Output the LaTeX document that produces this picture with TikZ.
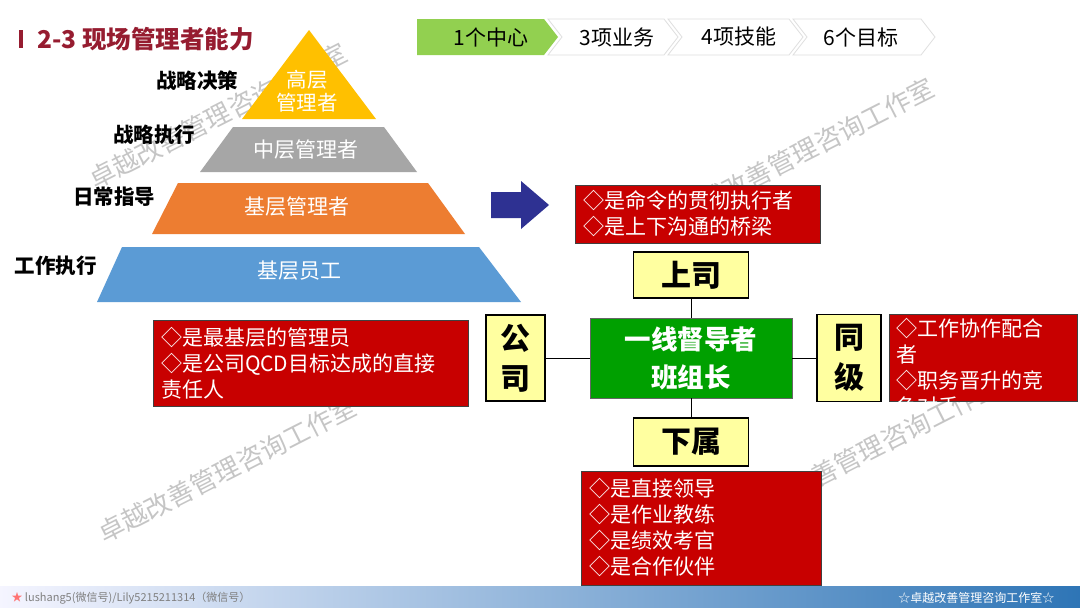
\documentclass[tikz,border=0pt]{standalone}
\usepackage{fontspec}
\setmainfont{Noto Sans CJK SC}
\usepackage{tikz}
\usepackage{xcolor}

\definecolor{titlered}{RGB}{150,28,48}
\definecolor{tabgreen}{RGB}{146,208,80}
\definecolor{pyryellow}{RGB}{255,192,0}
\definecolor{pyrgray}{RGB}{166,166,166}
\definecolor{pyrorange}{RGB}{237,125,49}
\definecolor{pyrblue}{RGB}{91,155,213}
\definecolor{arrownavy}{RGB}{46,49,146}
\definecolor{boxred}{RGB}{200,0,0}
\definecolor{boxyellow}{RGB}{255,255,160}
\definecolor{leadgreen}{RGB}{0,160,0}
\definecolor{footblue}{RGB}{46,117,182}

\tikzset{
  watermark/.style={text=gray, opacity=0.45, rotate=27, font=\fontsize{26}{26}\selectfont},
  tabshape/.style={draw=gray!25, fill=white, line width=0.8pt},
  tabtext/.style={font=\fontsize{21}{24}\selectfont},
  layertext/.style={text=white, align=center, font=\fontsize{21}{24}\selectfont},
  levelnote/.style={font=\bfseries\fontsize{20.5}{22}\selectfont},
  redbox/.style={draw=black!75, fill=boxred, line width=1pt, text=white, align=left,
    inner xsep=8pt, inner ysep=4pt, font=\fontsize{21}{26}\selectfont},
  rolebox/.style={draw=black, fill=boxyellow, line width=1.2pt, align=center,
    inner sep=0pt, font=\bfseries\fontsize{30}{40}\selectfont},
  link/.style={draw=black, line width=1pt}
}

\begin{document}
\begin{tikzpicture}[x=1pt,y=-1pt]

\useasboundingbox (0,0) rectangle (1080,608);
\fill[white] (0,0) rectangle (1080,608);

\node[watermark] (wm1) at (218,116) {卓越改善管理咨询工作室};
\node[watermark] (wm2) at (805,151) {卓越改善管理咨询工作室};
\node[watermark] (wm3) at (227,470) {卓越改善管理咨询工作室};
\node[watermark] (wm4) at (871,449) {卓越改善管理咨询工作室};

\fill[titlered] (19,30) rectangle (23,48);
\node[anchor=west, text=titlered, font=\bfseries\fontsize{24.5}{27}\selectfont] (title) at (34,39)
{2-3 现场管理者能力};

\fill[tabgreen] (417,19) -- (544,19) -- (558,37) -- (544,55) -- (417,55) -- cycle;
\draw[tabshape] (548,19) -- (664,19) -- (678,37) -- (664,55) -- (548,55) -- (562,37) -- cycle;
\draw[tabshape] (668,19) -- (789,19) -- (803,37) -- (789,55) -- (668,55) -- (682,37) -- cycle;
\draw[tabshape] (793,19) -- (921,19) -- (935,37) -- (921,55) -- (793,55) -- (807,37) -- cycle;
\node[tabtext] (hub) at (491,37) {1个中心};
\node[tabtext] (tasks) at (617,37) {3项业务};
\node[tabtext] (skills) at (739,37) {4项技能};
\node[tabtext] (goals) at (861,37) {6个目标};

\fill[pyryellow] (309,30) -- (376,119) -- (242,119) -- cycle;
\fill[pyrgray] (233,127) -- (384,127) -- (417,172) -- (200,172) -- cycle;
\fill[pyrorange] (178,183) -- (428,183) -- (465,234) -- (152,234) -- cycle;
\fill[pyrblue] (122,247) -- (479,247) -- (521,302) -- (97,302) -- cycle;
\node[layertext, font=\fontsize{20.5}{23}\selectfont] (top) at (307,91) {高层\\管理者};
\node[layertext] (middle) at (306,150) {中层管理者};
\node[layertext] (lower) at (297,207) {基层管理者};
\node[layertext] (staff) at (299,271) {基层员工};

\node[levelnote] (decide) at (197,81) {战略决策};
\node[levelnote] (execute) at (154,135) {战略执行};
\node[levelnote] (guide) at (114,197) {日常指导};
\node[levelnote] (work) at (56,266) {工作执行};

\fill[arrownavy] (491,192) -- (521,192) -- (521,181) -- (549,205) -- (521,229) -- (521,218) -- (491,218) -- cycle;

\node[redbox, text width=229pt, minimum height=58pt] (bossnote) at (697.5,214)
{◇是命令的贯彻执行者\\◇是上下沟通的桥梁};
\node[redbox, text width=299pt, minimum height=86pt] (firmnote) at (310.5,363)
{◇是最基层的管理员\\◇是公司QCD目标达成的直接\\责任人};
\node[redbox, text width=224pt, minimum height=114pt] (teamnote) at (701,528)
{◇是直接领导\\◇是作业教练\\◇是绩效考官\\◇是合作伙伴};
\node[redbox, text width=172pt, minimum height=87pt] (peernote) at (983,357.5) {};
\begin{scope}
\clip (peernote.north west) rectangle (peernote.south east);
\node[anchor=north west, text=white, align=left, inner sep=0pt, font=\fontsize{21}{26}\selectfont]
(peertext) at (896,318) {◇工作协作配合\\者\\◇职务晋升的竞\\争对手};
\end{scope}

\node[rolebox, minimum width=115pt, minimum height=46pt] (boss) at (691,275) {上司};
\node[rolebox, minimum width=115pt, minimum height=48pt] (team) at (691,442) {下属};
\node[rolebox, minimum width=59pt, minimum height=86pt] (firm) at (515.5,358) {公\\司};
\node[rolebox, minimum width=64pt, minimum height=87pt] (peer) at (849,358) {同\\级};
\node[draw=black!60, fill=leadgreen, line width=0.8pt, minimum width=202pt, minimum height=80pt,
  text=white, align=center, font=\bfseries\fontsize{26.5}{38}\selectfont] (lead) at (691,358)
{一线督导者\\班组长};

\draw[link] (boss) -- (lead);
\draw[link] (lead) -- (team);
\draw[link] (firm) -- (lead);
\draw[link] (lead) -- (peer);

\shade[left color=blue!4, right color=footblue] (0,586) rectangle (1080,608);
\node[anchor=west, text=gray, font=\fontsize{11}{12}\selectfont] (contact) at (8,598)
{\textcolor{red!55}{★} lushang5(微信号)/Lily5215211314（微信号）};
\node[anchor=east, text=white, font=\fontsize{12}{12}\selectfont] (studio) at (1058,598)
{☆卓越改善管理咨询工作室☆};

\end{tikzpicture}
\end{document}
